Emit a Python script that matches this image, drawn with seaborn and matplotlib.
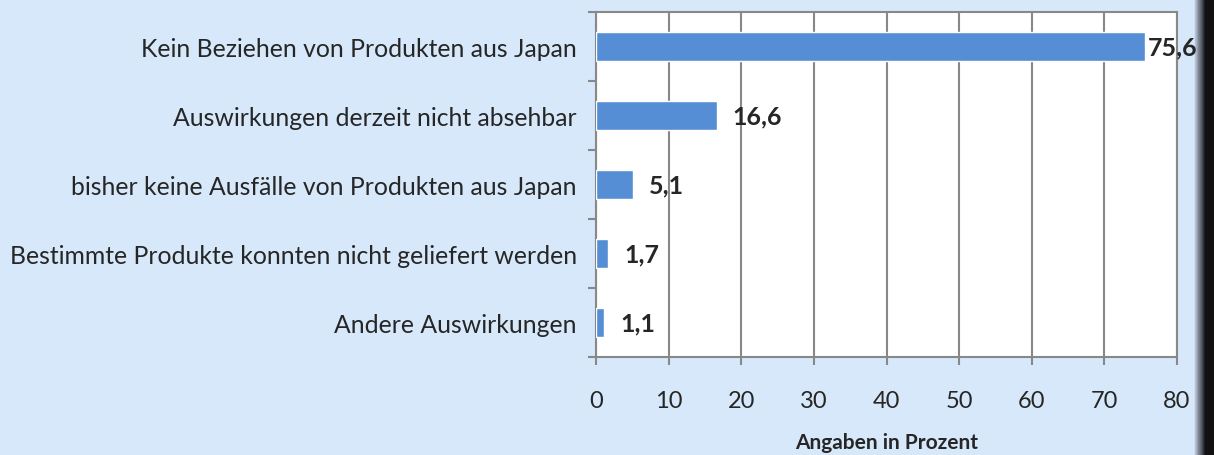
import matplotlib
matplotlib.use("Agg")
import matplotlib.pyplot as plt
import seaborn as sns
import pandas as pd
import numpy as np
from matplotlib.patches import Rectangle

categories = [
    "Kein Beziehen von Produkten aus Japan",
    "Auswirkungen derzeit nicht absehbar",
    "bisher keine Ausfälle von Produkten aus Japan",
    "Bestimmte Produkte konnten nicht geliefert werden",
    "Andere Auswirkungen",
]
values = [75.6, 16.6, 5.1, 1.7, 1.1]
value_labels = ["75,6", "16,6", "5,1", "1,7", "1,1"]
xticks = [0, 10, 20, 30, 40, 50, 60, 70, 80]
xlabel = "Angaben in Prozent"

sns.set_style("white")
plt.rcParams["font.family"] = ["Lato", "DejaVu Sans"]

bg = "#D6E8FA"
fig = plt.figure(figsize=(12.14, 4.56), dpi=100, facecolor=bg)
ax = fig.add_axes([0.491, 0.215, 0.4785, 0.7565])
df = pd.DataFrame({"cat": categories, "val": values})
sns.barplot(data=df, y="cat", x="val", orient="h", color="#558ED5",
            saturation=1, width=0.41, ax=ax, zorder=3)
ax.set_facecolor("white")
ax.set_xlim(0, 80)
ax.set_ylim(len(categories) - 0.5, -0.5)
ax.set_xticks(xticks)
ax.set_xticklabels([str(t) for t in xticks], fontsize=17)
ax.tick_params(axis="x", bottom=True, length=6, color="#888888", width=1.5, pad=18)
ax.set_yticks(range(len(categories)))
ax.set_yticklabels(categories, fontsize=17.8)
ax.tick_params(axis="y", which="major", left=False, length=0, pad=14)
ax.set_yticks(np.arange(-0.5, len(categories), 1), minor=True)
ax.tick_params(axis="y", which="minor", left=True, length=6, color="#888888", width=1.5)
ax.grid(axis="x", color="#888888", linewidth=1.5, zorder=0)
ax.set_axisbelow(True)
for s in ["left", "bottom", "right", "top"]:
    ax.spines[s].set_color("#888888")
    ax.spines[s].set_linewidth(1.5)
ax.set_ylabel("")
ax.set_xlabel(xlabel, fontsize=15, fontweight="bold", labelpad=15)
for i, (v, lab) in enumerate(zip(values, value_labels)):
    off = 2.0 if i == 0 else 11.5
    ax.annotate(lab, (v, i), xytext=(off, 0), textcoords="offset points",
                va="center", ha="left", fontsize=18, fontweight="bold",
                zorder=5, annotation_clip=False)

# right dark border (drawn beneath the axes so the 75,6 label stays on top)
n = 12
for k in range(n):
    c = 0.85 - 0.75 * k / n
    fig.patches.append(Rectangle((1195 / 1214 + k * (10 / 1214) / n, 0), 10 / 1214 / n, 1,
                                 transform=fig.transFigure, color=(c * 0.85, c * 0.9, c), zorder=-1))
fig.patches.append(Rectangle((1205 / 1214, 0), 9 / 1214, 1, transform=fig.transFigure,
                             color="#111111", zorder=-1))
fig.savefig("out.png", dpi=100, facecolor=bg)
